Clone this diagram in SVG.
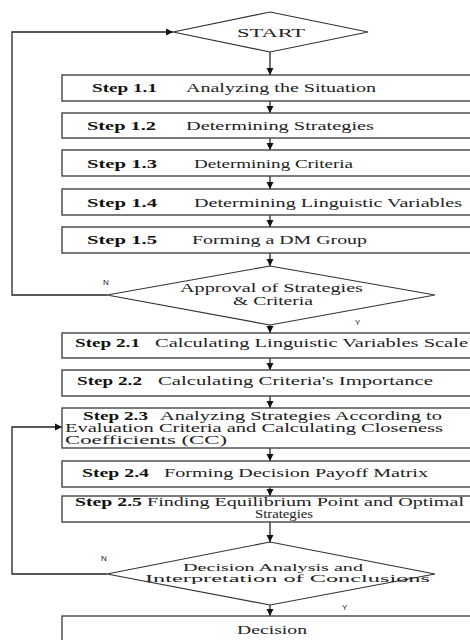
<svg xmlns="http://www.w3.org/2000/svg" width="470" height="640" viewBox="0 0 470 640">
<defs>
<marker id="ah" markerWidth="8" markerHeight="8" refX="7" refY="4" orient="auto" markerUnits="userSpaceOnUse">
<path d="M0,0.5 L7,4 L0,7.5 z" fill="#111"/>
</marker>
<style>
.box{fill:#fff;stroke:#444;stroke-width:1.4}
.dia{fill:#fff;stroke:#333;stroke-width:1.2}
.t{font-family:"Liberation Serif","Times New Roman",serif;font-size:13.5px;fill:#222}
.m{font-size:11.5px}
.s{font-size:11px}
.b{font-weight:bold;fill:#111}
.lbl{font-family:"Liberation Sans",Arial,sans-serif;font-size:8px;fill:#222}
.c{fill:none;stroke:#222;stroke-width:1.3;marker-end:url(#ah)}
</style>
</defs>
<rect width="470" height="640" fill="#fff"/>
<g id="connectors">
<line class="c" x1="270" y1="52" x2="270" y2="75"/>
<line class="c" x1="270" y1="101" x2="270" y2="113"/>
<line class="c" x1="270" y1="138" x2="270" y2="150"/>
<line class="c" x1="270" y1="176" x2="270" y2="189"/>
<line class="c" x1="270" y1="215" x2="270" y2="227"/>
<line class="c" x1="270" y1="253" x2="270" y2="266"/>
<line class="c" x1="270" y1="325" x2="270" y2="333"/>
<line class="c" x1="270" y1="358" x2="270" y2="370"/>
<line class="c" x1="270" y1="396" x2="270" y2="408"/>
<line class="c" x1="270" y1="448" x2="270" y2="461"/>
<line class="c" x1="270" y1="487" x2="270" y2="496"/>
<line class="c" x1="270" y1="522" x2="270" y2="542"/>
<line class="c" x1="270" y1="605" x2="270" y2="616"/>
<polyline class="c" points="107,295 12,295 12,32 173,32"/>
<polyline class="c" points="107,574 12,574 12,427 62,427"/>
<text class="lbl" x="103" y="285">N</text>
<text class="lbl" x="355" y="325">Y</text>
<text class="lbl" x="101" y="561">N</text>
<text class="lbl" x="342" y="610">Y</text>
</g>
<g id="start">
<polygon class="dia" points="270,12 368,32 270,52 173,32"/>
<text class="t" x="237" y="37" textLength="68" lengthAdjust="spacingAndGlyphs">START</text>
</g>
<g id="step11">
<rect class="box" x="62" y="75" width="420" height="26"/>
<text class="t b" x="92" y="92" textLength="65" lengthAdjust="spacingAndGlyphs">Step 1.1</text>
<text class="t" x="186" y="92" textLength="190" lengthAdjust="spacingAndGlyphs">Analyzing the Situation</text>
</g>
<g id="step12">
<rect class="box" x="62" y="113" width="420" height="25"/>
<text class="t b" x="87" y="130" textLength="69" lengthAdjust="spacingAndGlyphs">Step 1.2</text>
<text class="t" x="186" y="130" textLength="188" lengthAdjust="spacingAndGlyphs">Determining Strategies</text>
</g>
<g id="step13">
<rect class="box" x="62" y="150" width="420" height="26"/>
<text class="t b" x="87" y="168" textLength="70" lengthAdjust="spacingAndGlyphs">Step 1.3</text>
<text class="t" x="194" y="168" textLength="159" lengthAdjust="spacingAndGlyphs">Determining Criteria</text>
</g>
<g id="step14">
<rect class="box" x="62" y="189" width="420" height="26"/>
<text class="t b" x="87" y="207" textLength="70" lengthAdjust="spacingAndGlyphs">Step 1.4</text>
<text class="t" x="194" y="207" textLength="268" lengthAdjust="spacingAndGlyphs">Determining Linguistic Variables</text>
</g>
<g id="step15">
<rect class="box" x="62" y="227" width="420" height="26"/>
<text class="t b" x="87" y="244" textLength="70" lengthAdjust="spacingAndGlyphs">Step 1.5</text>
<text class="t" x="192" y="244" textLength="175" lengthAdjust="spacingAndGlyphs">Forming a DM Group</text>
</g>
<g id="approval">
<polygon class="dia" points="270,266 435,295 270,325 107,295"/>
<text class="t m" x="180" y="292" textLength="183" lengthAdjust="spacingAndGlyphs">Approval of Strategies</text>
<text class="t m" x="233" y="305" textLength="80" lengthAdjust="spacingAndGlyphs">&amp; Criteria</text>
</g>
<g id="step21">
<rect class="box" x="62" y="333" width="420" height="25"/>
<text class="t b" x="75" y="347" textLength="65" lengthAdjust="spacingAndGlyphs">Step 2.1</text>
<text class="t" x="155" y="347" textLength="313" lengthAdjust="spacingAndGlyphs">Calculating Linguistic Variables Scale</text>
</g>
<g id="step22">
<rect class="box" x="62" y="370" width="420" height="26"/>
<text class="t b" x="77" y="385" textLength="65" lengthAdjust="spacingAndGlyphs">Step 2.2</text>
<text class="t" x="158" y="385" textLength="275" lengthAdjust="spacingAndGlyphs">Calculating Criteria's Importance</text>
</g>
<g id="step23">
<rect class="box" x="62" y="408" width="420" height="40"/>
<text class="t m b" x="83" y="420" textLength="65" lengthAdjust="spacingAndGlyphs">Step 2.3</text>
<text class="t m" x="160" y="420" textLength="282" lengthAdjust="spacingAndGlyphs">Analyzing Strategies According to</text>
<text class="t m" x="65" y="432" textLength="378" lengthAdjust="spacingAndGlyphs">Evaluation Criteria and Calculating Closeness</text>
<text class="t m" x="65" y="444" textLength="162" lengthAdjust="spacingAndGlyphs">Coefficients (CC)</text>
</g>
<g id="step24">
<rect class="box" x="62" y="461" width="420" height="26"/>
<text class="t b" x="82" y="477" textLength="67" lengthAdjust="spacingAndGlyphs">Step 2.4</text>
<text class="t" x="164" y="477" textLength="264" lengthAdjust="spacingAndGlyphs">Forming Decision Payoff Matrix</text>
</g>
<g id="step25">
<rect class="box" x="62" y="496" width="420" height="26"/>
<text class="t m b" x="75" y="506" textLength="67" lengthAdjust="spacingAndGlyphs">Step 2.5</text>
<text class="t m" x="147" y="506" textLength="317" lengthAdjust="spacingAndGlyphs">Finding Equilibrium Point and Optimal</text>
<text class="t m" x="255" y="518" textLength="58" lengthAdjust="spacingAndGlyphs">Strategies</text>
</g>
<g id="analysis">
<polygon class="dia" points="270,542 435,574 270,605 107,574"/>
<text class="t s" x="183" y="571" textLength="180" lengthAdjust="spacingAndGlyphs">Decision Analysis and</text>
<text class="t s" x="145" y="582" textLength="285" lengthAdjust="spacingAndGlyphs">Interpretation of Conclusions</text>
</g>
<g id="decision">
<rect class="box" x="62" y="616" width="420" height="40"/>
<text class="t" x="237" y="634" textLength="70" lengthAdjust="spacingAndGlyphs">Decision</text>
</g>
</svg>
